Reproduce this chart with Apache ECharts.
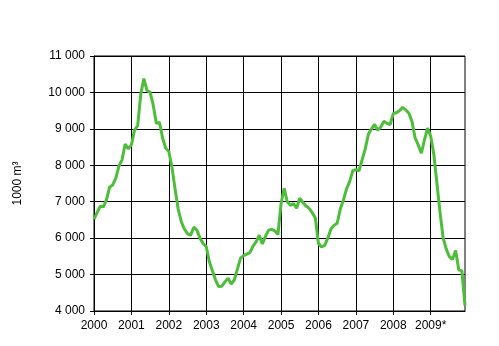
<!DOCTYPE html>
<html>
<head>
<meta charset="utf-8">
<script src="https://cdn.jsdelivr.net/npm/echarts@6/dist/echarts.min.js"></script>
<style>
  html, body { margin: 0; padding: 0; background: #fff; }
  #chart { width: 499px; height: 346px; }
</style>
</head>
<body>
<div id="chart"></div>
<script>
// monthly values, Jan 2000 .. Dec 2009 (1000 m3)
var yearLabels = ['2000', '2001', '2002', '2003', '2004', '2005', '2006', '2007', '2008', '2009*'];
var v2000 = [6520, 6700, 6880, 6860, 7050, 7400, 7460, 7650, 7980, 8150, 8580, 8450];
var v2001 = [8560, 8970, 9080, 9950, 10380, 10050, 10010, 9650, 9150, 9180, 8750, 8470];
var v2002 = [8380, 7950, 7350, 6800, 6450, 6250, 6120, 6080, 6300, 6220, 6000, 5850];
var v2003 = [5770, 5350, 5100, 4850, 4670, 4680, 4800, 4900, 4740, 4850, 5150, 5450];
var v2004 = [5520, 5560, 5600, 5780, 5900, 6080, 5840, 6050, 6220, 6240, 6200, 6100];
var v2005 = [6950, 7370, 7000, 6900, 6950, 6820, 7100, 6980, 6880, 6820, 6700, 6550];
var v2006 = [5850, 5760, 5800, 6000, 6250, 6350, 6410, 6800, 7050, 7350, 7550, 7850];
var v2007 = [7880, 7850, 8150, 8450, 8850, 9000, 9120, 8960, 9050, 9210, 9150, 9120];
var v2008 = [9420, 9440, 9500, 9590, 9520, 9430, 9200, 8750, 8560, 8330, 8700, 9020];
var v2009 = [8800, 8300, 7500, 6700, 6000, 5700, 5490, 5420, 5660, 5130, 5100, 4150];

var values = [].concat(v2000, v2001, v2002, v2003, v2004, v2005, v2006, v2007, v2008, v2009);
var months = [];
for (var i = 0; i < values.length; i++) {
    months.push(yearLabels[Math.floor(i / 12)] + '-' + (i % 12 + 1));
}

var option = {
    animation: false,
    grid: {
        show: true,
        borderColor: '#000',
        borderWidth: 1,
        left: 94,
        top: 56,
        right: 34,
        bottom: 35
    },
    xAxis: {
        type: 'category',
        boundaryGap: false,
        data: months,
        axisLine: { lineStyle: { color: '#000', width: 1 } },
        axisTick: { interval: 11, length: 4, lineStyle: { color: '#000' } },
        axisLabel: {
            interval: 11,
            color: '#000',
            fontFamily: 'Liberation Sans',
            fontSize: 12,
            margin: 9,
            formatter: function (value, index) {
                return yearLabels[Math.floor(index / 12)];
            }
        },
        splitLine: { show: true, interval: 11, lineStyle: { color: '#000', width: 1 } }
    },
    yAxis: {
        type: 'value',
        min: 4000,
        max: 11000,
        interval: 1000,
        name: '1000 m\u00b3',
        nameLocation: 'middle',
        nameRotate: 90,
        nameGap: 70,
        nameTextStyle: { color: '#000', fontFamily: 'Liberation Sans', fontSize: 12 },
        axisLine: { show: true, lineStyle: { color: '#000', width: 1 } },
        axisTick: { show: true, length: 4, lineStyle: { color: '#000' } },
        axisLabel: {
            color: '#000',
            fontFamily: 'Liberation Sans',
            fontSize: 12,
            margin: 9,
            formatter: function (v) {
                return String(v).replace(/\B(?=(\d{3})+(?!\d))/g, ' ');
            }
        },
        splitLine: { lineStyle: { color: '#000', width: 1 } }
    },
    series: [
        {
            type: 'line',
            data: values,
            symbol: 'none',
            lineStyle: { color: '#4DBE3A', width: 3 },
            itemStyle: { color: '#4DBE3A' }
        }
    ]
};

var chart = echarts.init(document.getElementById('chart'));
chart.setOption(option);
</script>
</body>
</html>
